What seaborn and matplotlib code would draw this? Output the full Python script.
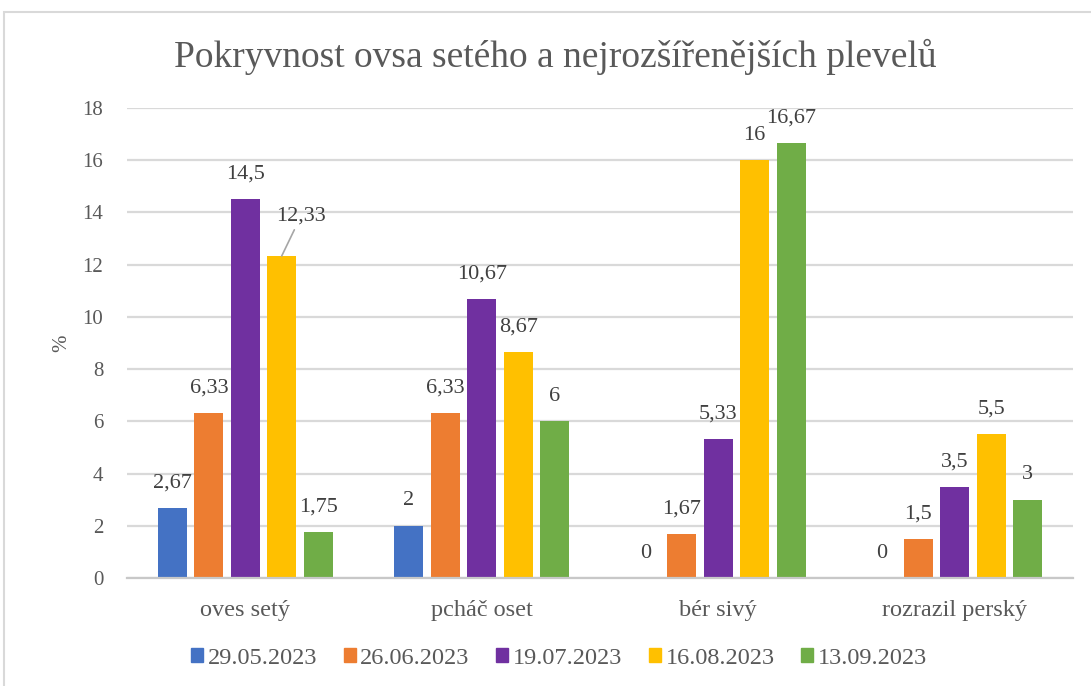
import matplotlib
matplotlib.use("Agg")
import matplotlib.pyplot as plt
import matplotlib.patches as mpatches
import pandas as pd
import seaborn as sns

# data
categories = ["oves setý", "pcháč oset", "bér sivý", "rozrazil perský"]
dates = ["29.05.2023", "26.06.2023", "19.07.2023", "16.08.2023", "13.09.2023"]
v_2905 = [2.67, 2.0, 0.0, 0.0]
v_2606 = [6.33, 6.33, 1.67, 1.5]
v_1907 = [14.5, 10.67, 5.33, 3.5]
v_1608 = [12.33, 8.67, 16.0, 5.5]
v_1309 = [1.75, 6.0, 16.67, 3.0]
colors = ["#4472C4", "#ED7D31", "#7030A0", "#FFC000", "#70AD47"]

series = [v_2905, v_2606, v_1907, v_1608, v_1309]
rows = []
for d, vals in zip(dates, series):
    for c, v in zip(categories, vals):
        rows.append({"druh": c, "datum": d, "hodnota": v})
df = pd.DataFrame(rows)

sns.set_style("white")
plt.rcParams["font.family"] = ["Liberation Serif", "DejaVu Serif"]
txt = "#595959"

fig = plt.figure(figsize=(10.91, 6.86), dpi=100)
ax = fig.add_axes([127 / 1091, 1 - 578 / 686, 946 / 1091, 470 / 686])

sns.barplot(data=df, x="druh", y="hodnota", hue="datum", hue_order=dates,
            palette=colors, width=0.77, gap=0.2, linewidth=0,
            saturation=1, ax=ax, legend=False)

ax.set_ylim(0, 18)
ax.set_yticks(range(0, 19, 2))
ax.yaxis.grid(True, color="#D9D9D9", linewidth=1.6)
ax.set_axisbelow(True)
for s in ["top", "right", "left"]:
    ax.spines[s].set_visible(False)
ax.spines["bottom"].set_color("#C8C8C8")
ax.spines["bottom"].set_linewidth(1.6)
ax.tick_params(axis="y", length=0, labelsize=15, colors=txt, pad=17)
ax.tick_params(axis="x", length=0, labelsize=17.5, colors=txt, pad=16)
ax.set_xlabel("")
ax.set_ylabel("%", fontsize=15, color=txt)
ax.yaxis.set_label_coords(-0.059, 0.5)
ax.set_xlim(-0.5, 3.5)

# data labels
for cont, vals in zip(ax.containers, series):
    for bar, v in zip(cont, vals):
        lab = f"{v:g}".replace(".", ",")
        x = bar.get_x() + bar.get_width() / 2
        if v == 12.33:
            ax.annotate(lab, xy=(x, v), xytext=(14, 29), textcoords="offset points",
                        ha="center", va="center", fontsize=16, color="#404040",
                        arrowprops=dict(arrowstyle="-", color="#A6A6A6", lw=1.2,
                                        shrinkA=1, shrinkB=0))
        else:
            ax.annotate(lab, xy=(x, v), xytext=(0, 18), textcoords="offset points",
                        ha="center", va="center", fontsize=16, color="#404040")

fig.text(555 / 1091, 1 - 57 / 686, "Pokryvnost ovsa setého a nejrozšířenějších plevelů",
         ha="center", va="center", fontsize=27, color=txt)

handles = [mpatches.Patch(color=c, label=d) for c, d in zip(colors, dates)]
fig.legend(handles=handles, loc="center", bbox_to_anchor=(559 / 1091, 1 - 658 / 686),
           ncol=5, frameon=False, fontsize=17.5, labelcolor=txt,
           handlelength=0.5, handleheight=0.5, handletextpad=0.18, columnspacing=1.1)

fig.patches.append(mpatches.Rectangle((4 / 1091, -0.05), 1.1, 1 - 12 / 686 + 0.05,
                                      transform=fig.transFigure, fill=False,
                                      edgecolor="#D9D9D9", linewidth=1.5))

fig.savefig("out.png", dpi=100)
